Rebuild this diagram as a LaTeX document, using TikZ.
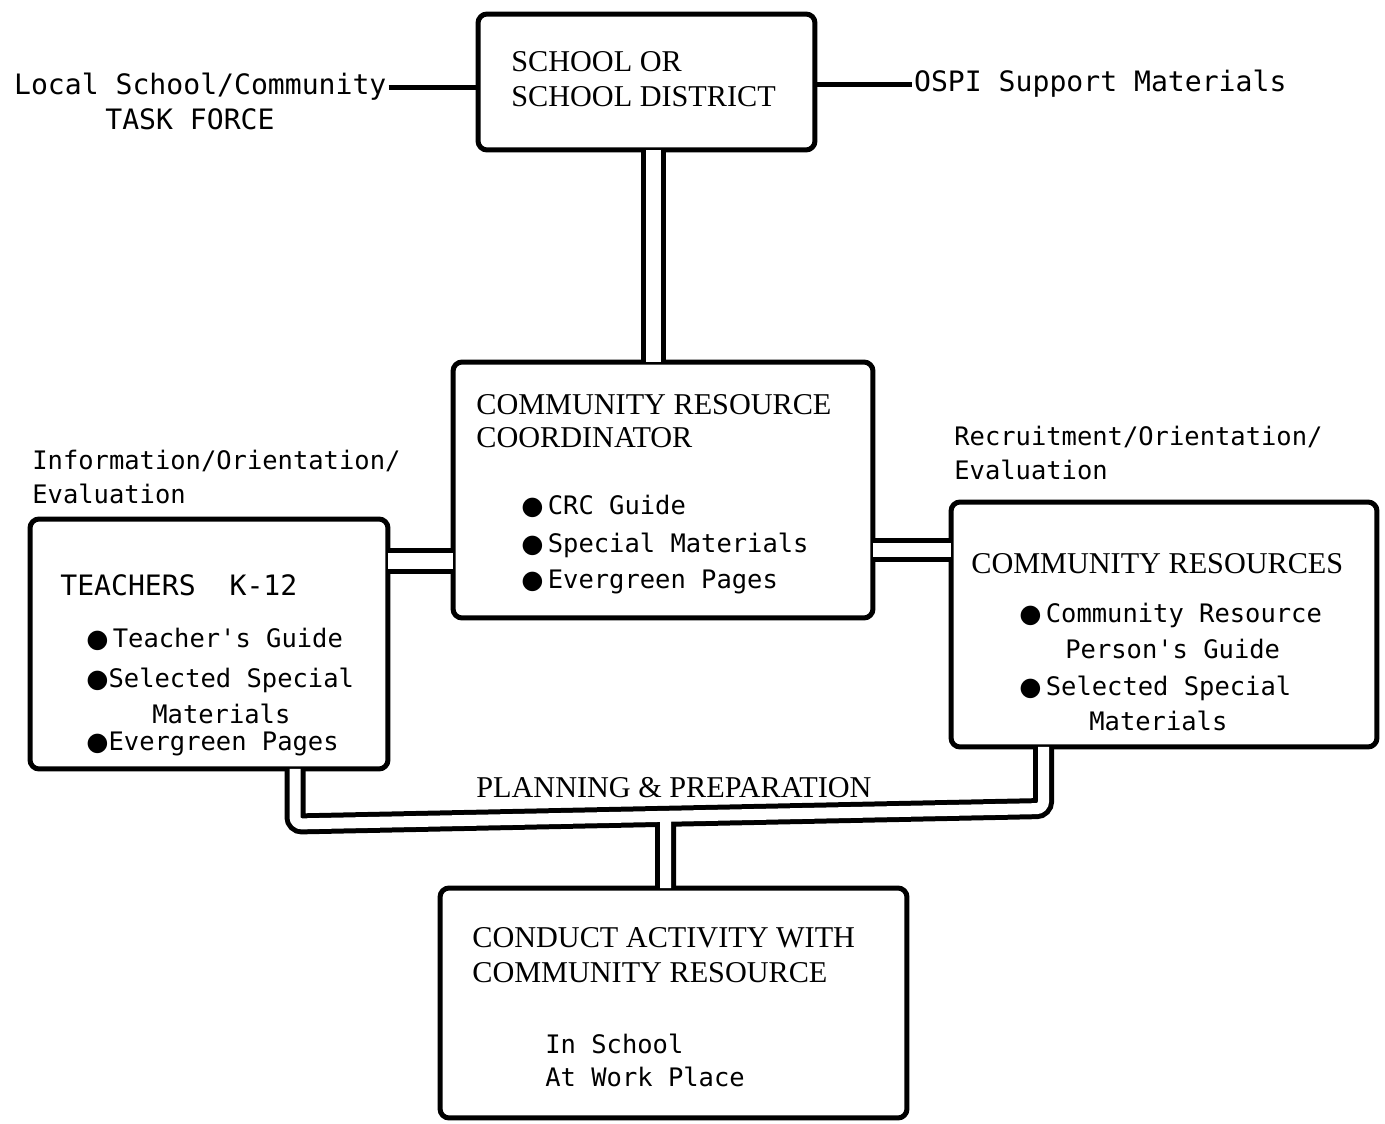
\documentclass[tikz,border=0pt]{standalone}
\usepackage{fontspec}
\setmainfont{DejaVu Sans Mono}[Ligatures=TeXOff]
\newfontfamily\capsfont{Liberation Serif}
\newfontfamily\symfont{DejaVu Sans}
\usetikzlibrary{positioning}
\newcommand{\blob}{{\symfont ●}}
\tikzset{
  box/.style={draw=black,line width=0.1cm,rounded corners=0.18cm,inner sep=0pt},
  pipe/.style={draw=black,line width=0.1cm,double=white,double distance=#1,
    rounded corners=0.14cm,shorten <=-0.05cm,shorten >=-0.05cm},
  link/.style={draw=black,line width=0.1cm},
  caps/.style={anchor=base west,inner sep=0pt,font=\capsfont\fontsize{17.2}{20}\selectfont},
  entry/.style={anchor=base west,inner sep=0pt,font=\fontsize{14.5}{17}\selectfont},
  bigentry/.style={entry,font=\fontsize{16}{19}\selectfont}
}
\begin{document}
\begin{tikzpicture}[x=0.02cm,y=-0.02cm]
\useasboundingbox (0,0) rectangle (1385,1124);
% boxes
\node (school) [box,minimum width=6.74cm,minimum height=2.72cm] at (646.5,82) {};
\node (crc) [box,minimum width=8.4cm,minimum height=5.12cm] at (663,490) {};
\node (teach) [box,minimum width=7.16cm,minimum height=5cm] at (209,644) {};
\node (cres) [box,minimum width=8.52cm,minimum height=4.9cm] at (1164,624.5) {};
\node (conduct) [box,minimum width=9.34cm,minimum height=4.6cm] at (673.5,1003) {};
%
% pipe tracks
\coordinate (trunk) at (653,0);
\coordinate (westpipe) at (0,561);
\coordinate (eastpipe) at (0,550);
\coordinate (bendL) at (295,824);
\coordinate (bendR) at (1043.5,808.5);
\coordinate (junction) at (665.5,816.3);
%
\draw[pipe=0.30cm] (school.south -| trunk) -- (crc.north -| trunk);
\draw[pipe=0.34cm] (teach.east |- westpipe) -- (crc.west |- westpipe);
\draw[pipe=0.30cm] (crc.east |- eastpipe) -- (cres.west |- eastpipe);
\draw[pipe=0.22cm,shorten <=0pt,shorten >=0pt]
  ([yshift=0.05cm]teach.south -| bendL) -- (bendL) -- (bendR) -- ([yshift=0.05cm]cres.south -| bendR)
  (junction) -- ([yshift=-0.05cm]conduct.north -| junction);
%
% outside labels
\node (taskforce) [bigentry,inner sep=1pt] at (12,95) {Local School/Community};
\node (taskforce2) [bigentry] at (105,130) {TASK FORCE};
\node (ospi) [bigentry,inner sep=1pt] at (912,92) {OSPI Support Materials};
\draw[link] (taskforce.east) -- (school.west |- taskforce.east);
\draw[link] (school.east |- ospi.west) -- (ospi.west);
%
\node (info1) [entry] at (32,470) {Information/Orientation/};
\node (info2) [entry] at (32,503) {Evaluation};
\node (recr1) [entry] at (954,446) {Recruitment/Orientation/};
\node (recr2) [entry] at (954,480) {Evaluation};
\node (planning) [caps] at (476,797) {PLANNING \& PREPARATION};
%
% school
\node (schooltxt1) [caps] at (511,72) {SCHOOL OR};
\node (schooltxt2) [caps] at (511,107) {SCHOOL DISTRICT};
% coordinator
\node (crctxt1) [caps] at (476,415) {COMMUNITY RESOURCE};
\node (crctxt2) [caps] at (476,448) {COORDINATOR};
\node (crcitem1) [entry] at (521,515) {\blob\,CRC Guide};
\node (crcitem2) [entry] at (521,552) {\blob\,Special Materials};
\node (crcitem3) [entry] at (521,588) {\blob\,Evergreen Pages};
% teachers
\node (teachtxt) [bigentry] at (60,595) {TEACHERS\ \ K-12};
\node (teachitem1) [entry] at (86,647) {\blob\,Teacher's Guide};
\node (teachitem2) [entry] at (86,687) {\blob Selected Special};
\node (teachitem2b) [entry] at (152,723) {Materials};
\node (teachitem3) [entry] at (86,750) {\blob Evergreen Pages};
% community resources
\node (crestxt) [caps] at (971,573) {COMMUNITY RESOURCES};
\node (cresitem1) [entry] at (1019,622) {\blob\,Community Resource};
\node (cresitem1b) [entry] at (1065,658) {Person's Guide};
\node (cresitem2) [entry] at (1019,695) {\blob\,Selected Special};
\node (cresitem2b) [entry] at (1089,730) {Materials};
% conduct activity
\node (conducttxt1) [caps] at (472,947) {CONDUCT ACTIVITY WITH};
\node (conducttxt2) [caps] at (472,982) {COMMUNITY RESOURCE};
\node (conductitem1) [entry] at (545,1053) {In School};
\node (conductitem2) [entry] at (545,1086) {At Work Place};
\end{tikzpicture}
\end{document}
